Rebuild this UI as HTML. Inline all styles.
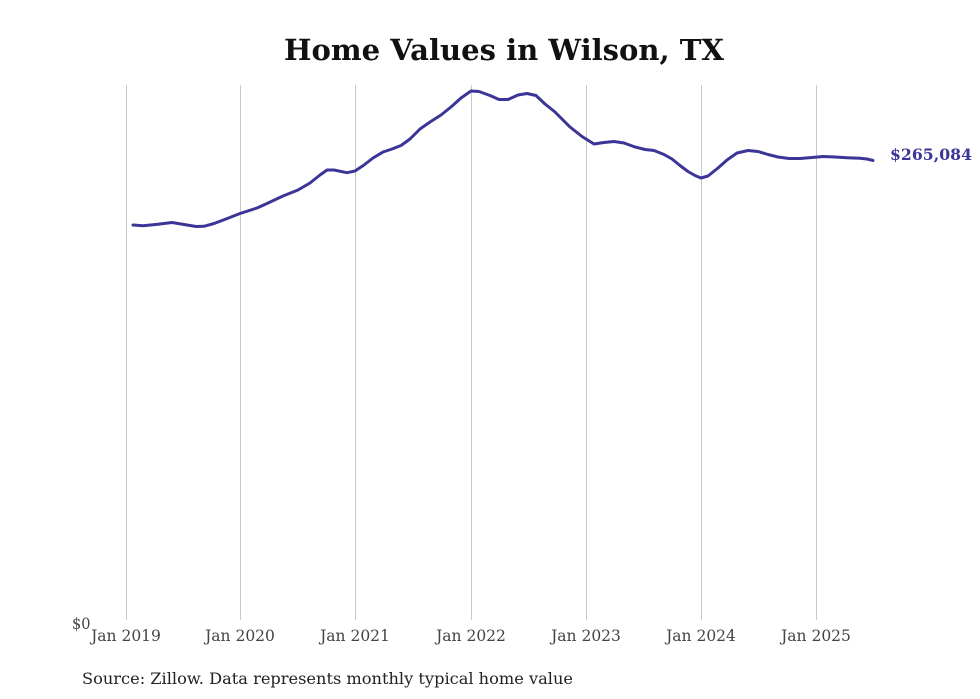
<!DOCTYPE html>
<html>
<head>
<meta charset="utf-8">
<style>
  html, body { margin: 0; padding: 0; background: #ffffff; }
  body { width: 980px; height: 699px; overflow: hidden; }
  svg { display: block; }
</style>
</head>
<body>
<svg width="980" height="699" viewBox="0 0 980 699" xmlns="http://www.w3.org/2000/svg">
  <rect width="980" height="699" fill="#ffffff"/>
  <!-- Title -->
  <text x="504" y="60" text-anchor="middle" font-family="DejaVu Serif, Liberation Serif, serif" font-weight="bold" font-size="29" fill="#111111" textLength="440" lengthAdjust="spacingAndGlyphs">Home Values in Wilson, TX</text>

  <!-- Gridlines -->
  <g stroke="#c9c9c9" stroke-width="1">
    <line x1="126.5" y1="85" x2="126.5" y2="620"/>
    <line x1="240.5" y1="85" x2="240.5" y2="620"/>
    <line x1="355.5" y1="85" x2="355.5" y2="620"/>
    <line x1="471.5" y1="85" x2="471.5" y2="620"/>
    <line x1="586.5" y1="85" x2="586.5" y2="620"/>
    <line x1="701.5" y1="85" x2="701.5" y2="620"/>
    <line x1="816.5" y1="85" x2="816.5" y2="620"/>
  </g>

  <!-- Axis labels -->
  <g font-family="DejaVu Serif, Liberation Serif, serif" font-size="15.5" fill="#444444">
    <text x="72" y="629" textLength="18.5" lengthAdjust="spacingAndGlyphs">$0</text>
    <text x="126" y="641" text-anchor="middle">Jan 2019</text>
    <text x="240" y="641" text-anchor="middle">Jan 2020</text>
    <text x="355" y="641" text-anchor="middle">Jan 2021</text>
    <text x="471" y="641" text-anchor="middle">Jan 2022</text>
    <text x="586" y="641" text-anchor="middle">Jan 2023</text>
    <text x="701" y="641" text-anchor="middle">Jan 2024</text>
    <text x="816" y="641" text-anchor="middle">Jan 2025</text>
  </g>

  <!-- Series -->
  <polyline fill="none" stroke="#3b3597" stroke-width="3" stroke-linejoin="round" stroke-linecap="round"
    points="133,225 143,225.7 158,224.3 172,222.5 184,224.5 196,226.5 204,226.3 214,223.5 226,219 240,213.5 257,208 267,203.5 283,196 298,190 310,183 320,175 327,170 334,170 347,172.7 355,171 364,165 373,158 383,152 392,149 401,145.5 410,139 420,129 430,122 441,115 451,107 461,98 471,91 479,91.5 490,95.5 499,99.5 508,99.5 518,95 527,93.5 536,95.5 545,104 555,112 570,127 582,136.5 594,144 604,142.5 614,141.5 624,143 635,147 645,149.5 654,150.5 664,154.5 672,159 680,165.5 688,171.5 695,175.5 701,178 708,176 718,168 727,160 737,153 748,150.5 758,151.5 768,154.5 778,157 789,158.5 800,158.5 812,157.5 823,156.5 835,157 847,157.7 860,158.3 867,159 873,160.5"/>

  <!-- End label -->
  <text x="890" y="160" font-family="DejaVu Serif, Liberation Serif, serif" font-weight="bold" font-size="16" fill="#3b3597" textLength="82" lengthAdjust="spacingAndGlyphs">$265,084</text>

  <!-- Source -->
  <text x="82" y="684" font-family="DejaVu Serif, Liberation Serif, serif" font-size="16" fill="#222222" textLength="491" lengthAdjust="spacingAndGlyphs">Source: Zillow. Data represents monthly typical home value</text>
</svg>
</body>
</html>
